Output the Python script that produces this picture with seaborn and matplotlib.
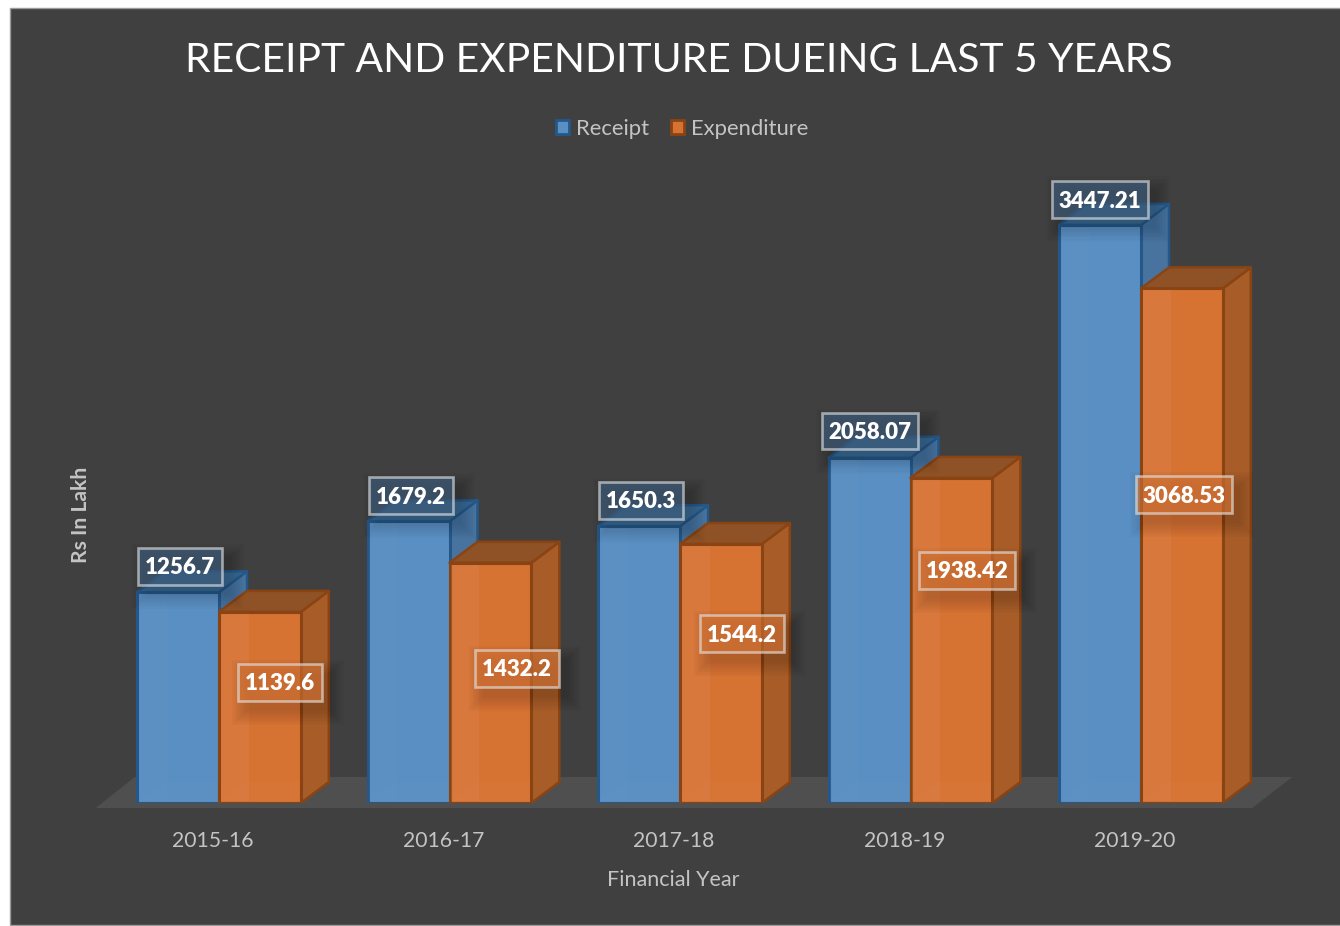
import matplotlib
matplotlib.use("Agg")
import matplotlib.pyplot as plt
import matplotlib.patches as mp
from matplotlib.colors import to_rgba
from matplotlib.transforms import ScaledTranslation
import pandas as pd
import seaborn as sns

years = ["2015-16", "2016-17", "2017-18", "2018-19", "2019-20"]
receipt = [1256.7, 1679.2, 1650.3, 2058.07, 3447.21]
expenditure = [1139.6, 1432.2, 1544.2, 1938.42, 3068.53]
series_names = ["Receipt", "Expenditure"]

# label centres in image pixels
receipt_label_xy = [(180, 566), (411, 495), (641, 500), (870, 431), (1100, 199)]
expend_label_xy = [(280, 682), (517, 668), (742, 633), (967, 570), (1184, 494)]

W, H = 1340, 926
BG = "#404040"
TXT = "#C4C4C4"
blue = dict(front="#5A8FC3", edge="#25588A", side="#47739E", top="#3A6892", strip="#6C9CCB")
orange = dict(front="#D67232", edge="#8A4413", side="#A85C28", top="#8F5226", strip="#E09060")
DEPTH_X, DEPTH_Y = 28, 21


def px_x(x):
    return x / W


def px_y(y):
    return 1 - y / H


sns.set_theme(style="white")
plt.rcParams["font.family"] = ["Lato", "DejaVu Sans"]

df = pd.DataFrame({
    "year": years * 2,
    "value": receipt + expenditure,
    "series": [series_names[0]] * 5 + [series_names[1]] * 5,
})

fig = plt.figure(figsize=(W / 100, H / 100), dpi=100, facecolor="white")
fig.add_artist(mp.Rectangle((px_x(10), px_y(925)), 1, px_y(8) - px_y(925), transform=fig.transFigure,
                            facecolor=BG, edgecolor="#9A9A9A", linewidth=1, zorder=-5))

left, right, base, top = 103.75, 1256.25, 803, 8
ax = fig.add_axes([px_x(left), px_y(base), (right - left) / W, (base - top) / H])
ax.patch.set_alpha(0)
sns.barplot(data=df, x="year", y="value", hue="series", ax=ax, width=0.71, gap=0,
            palette=[blue["front"], orange["front"]], saturation=1, legend=False, zorder=4)
ax.set_xlim(-0.5, 4.5)
ax.set_ylim(0, (base - top) / 0.1677)
sns.despine(ax=ax, left=True, bottom=True)
ax.set_yticks([])

bars = list(ax.patches)[:10]

# px -> data scale, for the depth faces
ux = 5 / (right - left)
uy = ax.get_ylim()[1] / (base - top)
dx = DEPTH_X * ux
dy = DEPTH_Y * uy

# floor
floor = mp.Polygon([(-0.5 - 8 * ux, -5 * uy), (-0.5 + 31 * ux, 26 * uy),
                    (4.5 + 36 * ux, 26 * uy), (4.5 - 4 * ux, -5 * uy)],
                   facecolor="#504F50", edgecolor="none", zorder=1, clip_on=False)
ax.add_patch(floor)

for n, bar in enumerate(bars):
    c = blue if n < 5 else orange
    z = 3 if n < 5 else 5
    x0, w, h = bar.get_x(), bar.get_width(), bar.get_height()
    bar.set_edgecolor(c["edge"])
    bar.set_linewidth(2.2)
    bar.set_zorder(z + 0.5)
    side = mp.Polygon([(x0 + w, 0), (x0 + w + dx, dy), (x0 + w + dx, h + dy), (x0 + w, h)],
                      facecolor=c["side"], edgecolor=c["edge"], linewidth=1.8, zorder=z, joinstyle="round")
    roof = mp.Polygon([(x0, h), (x0 + dx, h + dy), (x0 + w + dx, h + dy), (x0 + w, h)],
                      facecolor=c["top"], edgecolor=c["edge"], linewidth=1.8, zorder=z, joinstyle="round")
    ax.add_patch(side)
    ax.add_patch(roof)
    # lighter inner faces seen through the front
    strip = mp.Rectangle((x0 + 1.5 * ux, 2 * uy), dx, h - 4 * uy, facecolor=c["strip"],
                         alpha=0.12 if n < 5 else 0.22, edgecolor="none", zorder=z + 0.6)
    low = mp.Polygon([(x0 + 1.5 * ux, 2 * uy), (x0 + dx, dy), (x0 + w - 1.5 * ux, dy), (x0 + w - 1.5 * ux, 2 * uy)],
                     facecolor=c["strip"], alpha=0.12, edgecolor="none", zorder=z + 0.6)
    ax.add_patch(strip)
    ax.add_patch(low)

# axis text
ax.tick_params(axis="x", length=0, pad=20, labelsize=15.2, labelcolor=TXT)
shift = ScaledTranslation(-6 / 100, 0, fig.dpi_scale_trans)
for lab in ax.get_xticklabels():
    lab.set_transform(lab.get_transform() + shift)
ax.set_xlabel("")
ax.set_ylabel("")
fig.text(px_x(673), px_y(880), "Financial Year", color=TXT, fontsize=15.5, ha="center", va="center")
fig.text(px_x(81), px_y(515), "Rs In Lakh", color=TXT, fontsize=15.2, fontweight="bold",
         rotation=90, ha="center", va="center")
fig.text(px_x(678.5), px_y(61), "RECEIPT AND EXPENDITURE DUEING LAST 5 YEARS", color="white",
         fontsize=29.3, ha="center", va="center")

# legend
handles = [mp.Patch(facecolor=blue["front"], edgecolor=blue["edge"], linewidth=2, label=series_names[0]),
           mp.Patch(facecolor=orange["front"], edgecolor=orange["edge"], linewidth=2, label=series_names[1])]
fig.legend(handles=handles, loc="center", bbox_to_anchor=(px_x(682), px_y(129)), ncol=2, frameon=False,
           fontsize=15.8, labelcolor=TXT, handlelength=0.6, handleheight=0.6, handletextpad=0.3,
           columnspacing=1.0)


# value labels
def add_label(text, xy, fill, size_w):
    cx, cy = xy
    bw, bh = size_w, 37
    for k in range(8):
        grow = 28 - 4 * k
        fig.add_artist(mp.Rectangle((px_x(cx - bw / 2 + 8 - grow / 2), px_y(cy + bh / 2 + 10 + grow / 2)),
                                    (bw + grow) / W, (bh + grow) / H, transform=fig.transFigure,
                                    facecolor="black", edgecolor="none", alpha=0.02, zorder=8))
    fig.add_artist(mp.Rectangle((px_x(cx - bw / 2), px_y(cy + bh / 2)), bw / W, bh / H,
                                transform=fig.transFigure, facecolor=to_rgba(fill, 0.65),
                                edgecolor=to_rgba("#E4E6E8", 0.62), linewidth=1.9, zorder=9))
    fig.text(px_x(cx), px_y(cy + 2), text, color="white", fontsize=16, fontweight="heavy",
             ha="center", va="center", zorder=10)


for v, xy in zip(receipt, receipt_label_xy):
    t = f"{v:g}"
    add_label(t, xy, "#3F5F7F", 96 if len(t) > 6 else 84)
for v, xy in zip(expenditure, expend_label_xy):
    t = f"{v:g}"
    add_label(t, xy, "#D47436", 96 if len(t) > 6 else 84)

fig.savefig("out.png", dpi=100, facecolor=fig.get_facecolor())
